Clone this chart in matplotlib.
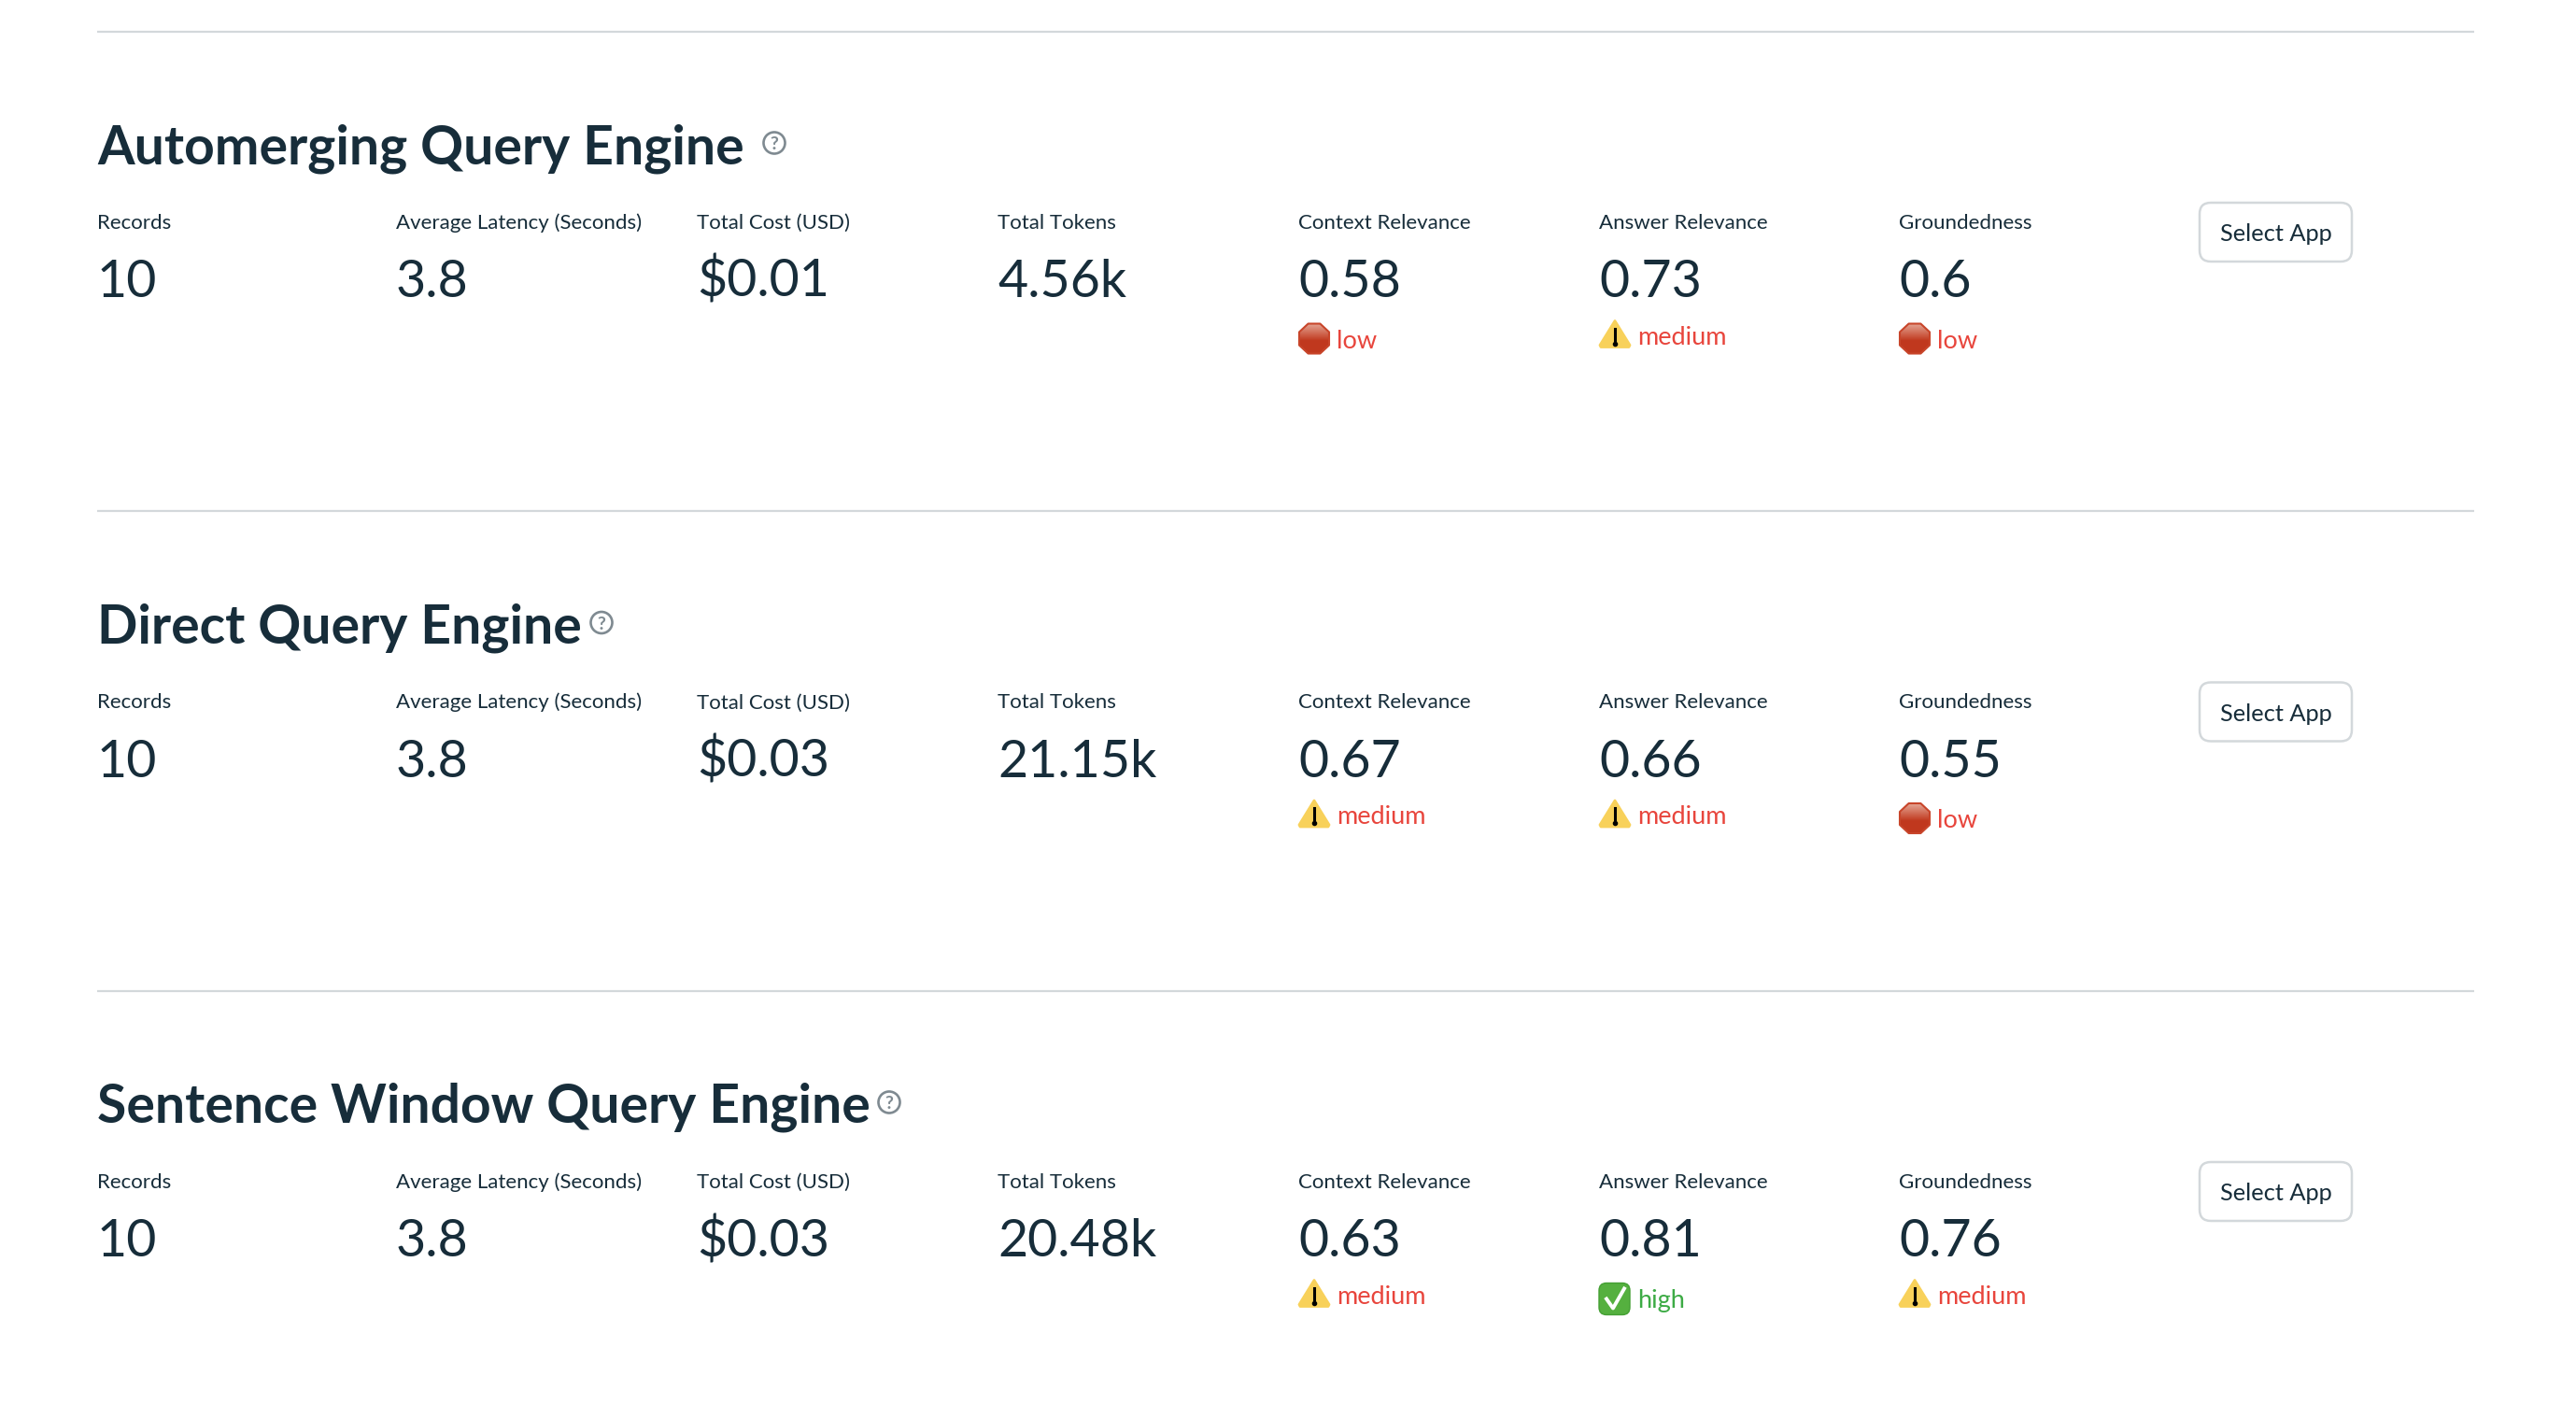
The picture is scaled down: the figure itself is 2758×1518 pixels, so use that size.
import matplotlib
matplotlib.use('Agg')
import matplotlib.pyplot as plt
from matplotlib.patches import Circle, FancyBboxPatch, Polygon
import numpy as np

plt.rcParams['font.family'] = ['Lato', 'DejaVu Sans']

apps = ['Automerging Query Engine', 'Direct Query Engine', 'Sentence Window Query Engine']
metric_names = ['Records', 'Average Latency (Seconds)', 'Total Cost (USD)', 'Total Tokens',
                'Context Relevance', 'Answer Relevance', 'Groundedness']
records = ['10', '10', '10']
latency = ['3.8', '3.8', '3.8']
cost = ['$0.01', '$0.03', '$0.03']
tokens = ['4.56k', '21.15k', '20.48k']
context_rel = ['0.58', '0.67', '0.63']
answer_rel = ['0.73', '0.66', '0.81']
groundedness = ['0.6', '0.55', '0.76']
context_lvl = ['low', 'medium', 'medium']
answer_lvl = ['medium', 'medium', 'high']
ground_lvl = ['low', 'low', 'medium']
help_x = [829, 644, 952]

DARK = '#172d3a'
LINE = '#d3d8db'
STEP = 513.5
COLS = [104, 424, 746, 1068, 1390, 1712, 2033]

fig = plt.figure(figsize=(27.58, 15.18), dpi=100)
ax = fig.add_axes([0, 0, 1, 1])
ax.set_xlim(0, 2758)
ax.set_ylim(1518, 0)
ax.axis('off')


def stop_icon(x, y):
    s = 32
    pts = np.array([[.3, 0], [.7, 0], [1, .28], [1, .72], [.7, 1], [.3, 1], [0, .72], [0, .28]])
    pts = pts * s + [x, y]
    poly = Polygon(pts, closed=True, fc='none', ec='#c8452a', lw=1.5, joinstyle='round', zorder=3)
    ax.add_patch(poly)
    grad = np.linspace(0, 1, 32).reshape(-1, 1)
    top = np.array([228, 165, 148]) / 255
    bottom = np.array([192, 56, 30]) / 255
    img = (top + (bottom - top) * np.minimum(grad * 1.7, 1)).reshape(32, 1, 3)
    im = ax.imshow(img, extent=[x, x + s, y + s, y], aspect='auto', zorder=2)
    im.set_clip_path(poly)


def warn_icon(x, y):
    pts = [(x + 17, y + 1), (x + 33, y + 27), (x + 32, y + 29), (x + 2, y + 29), (x + 1, y + 27)]
    ax.add_patch(Polygon(pts, closed=True, fc='#f8d15a', ec='#f8d15a', lw=2, joinstyle='round', zorder=2))
    ax.plot([x + 17, x + 17], [y + 9, y + 21], color='black', lw=2.2, zorder=3)
    ax.plot([x + 17], [y + 25], 'o', color='black', ms=3, zorder=3)


def check_icon(x, y):
    ax.add_patch(FancyBboxPatch((x + 6, y + 6), 21, 22, boxstyle='round,pad=6,rounding_size=8',
                                fc='#55b03f', ec='#449f33', lw=1, zorder=2))
    ax.plot([x + 8, x + 15, x + 27], [y + 17, y + 27, y + 6], color='white', lw=2.8, zorder=3)


def badge(x, row, level):
    y0 = 213.5 + row * STEP
    if level == 'low':
        stop_icon(x + 1, y0 + 133)
        ax.text(x + 41, y0 + 159.5, level, color='#e8453c', fontsize=19.5, va='baseline')
    elif level == 'medium':
        warn_icon(x, y0 + 129)
        ax.text(x + 41, y0 + 155.5, level, color='#e8453c', fontsize=19.5, va='baseline')
    else:
        check_icon(x, y0 + 133)
        ax.text(x + 41, y0 + 159.5, level, color='#3dab45', fontsize=19.5, va='baseline')


for i, app in enumerate(apps):
    dy = i * STEP
    ax.plot([104, 2649], [33.5 + dy, 33.5 + dy], color=LINE, lw=1.6, solid_capstyle='butt')
    ax.text(104, 175 + dy, app, color=DARK, fontsize=41, fontweight='bold', va='baseline')

    # help icon
    ax.add_patch(Circle((help_x[i], 153 + dy), 11.5, fc='white', ec='#7f8a91', lw=1.9))
    ax.text(help_x[i], 153 + dy, '?', color='#7f8a91', fontsize=14, fontweight='bold',
            ha='center', va='center_baseline')

    values = [records[i], latency[i], cost[i], tokens[i], context_rel[i], answer_rel[i], groundedness[i]]
    for x, name, val in zip(COLS, metric_names, values):
        ax.text(x, 245 + dy, name, color=DARK, fontsize=16, va='baseline')
        ax.text(x, 318 + dy, val, color=DARK, fontsize=40, va='baseline')

    badge(COLS[4], i, context_lvl[i])
    badge(COLS[5], i, answer_lvl[i])
    badge(COLS[6], i, ground_lvl[i])

    # button
    ax.add_patch(FancyBboxPatch((2367, 229 + dy), 139, 39, boxstyle='round,pad=12,rounding_size=12',
                                fc='white', ec=LINE, lw=1.8))
    ax.text(2437, 258 + dy, 'Select App', color=DARK, fontsize=18.3, ha='center', va='baseline')

ax.set_xlim(0, 2758)
ax.set_ylim(1518, 0)
fig.savefig('out.png', dpi=100, facecolor='white')
